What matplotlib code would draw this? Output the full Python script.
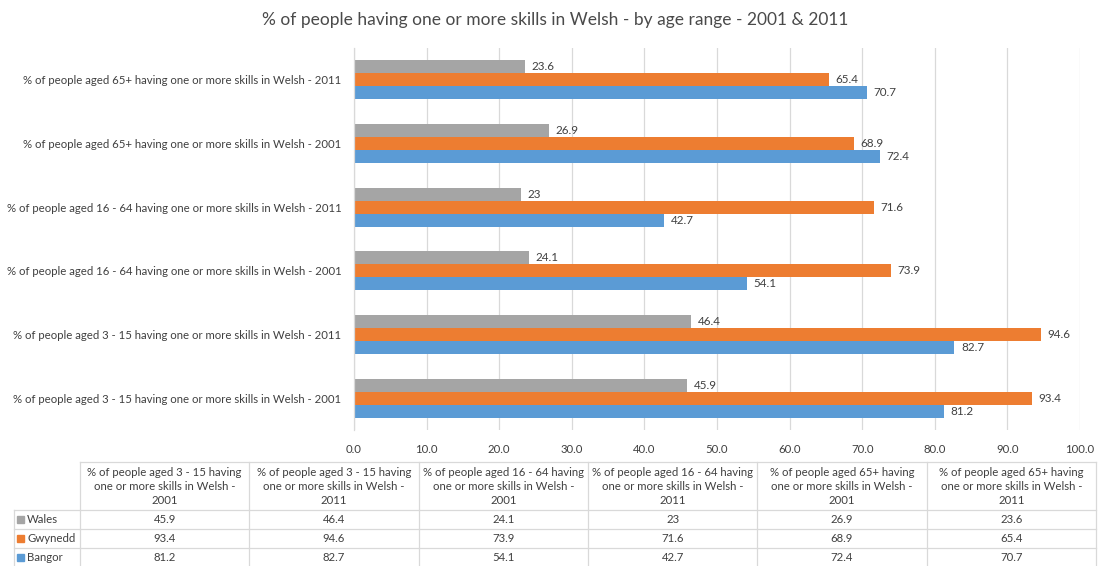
import matplotlib
matplotlib.use("Agg")
import matplotlib.pyplot as plt
import numpy as np
from matplotlib.lines import Line2D
from matplotlib.patches import Rectangle

plt.rcParams['font.family'] = ['Lato', 'DejaVu Sans']

categories = [
    "% of people aged 3 - 15 having one or more skills in Welsh - 2001",
    "% of people aged 3 - 15 having one or more skills in Welsh - 2011",
    "% of people aged 16 - 64 having one or more skills in Welsh - 2001",
    "% of people aged 16 - 64 having one or more skills in Welsh - 2011",
    "% of people aged 65+ having one or more skills in Welsh - 2001",
    "% of people aged 65+ having one or more skills in Welsh - 2011",
]
series_names = ["Wales", "Gwynedd", "Bangor"]
wales = [45.9, 46.4, 24.1, 23, 26.9, 23.6]
gwynedd = [93.4, 94.6, 73.9, 71.6, 68.9, 65.4]
bangor = [81.2, 82.7, 54.1, 42.7, 72.4, 70.7]
value_labels = {
    "Wales": ["45.9", "46.4", "24.1", "23", "26.9", "23.6"],
    "Gwynedd": ["93.4", "94.6", "73.9", "71.6", "68.9", "65.4"],
    "Bangor": ["81.2", "82.7", "54.1", "42.7", "72.4", "70.7"],
}
xticks = [0, 10, 20, 30, 40, 50, 60, 70, 80, 90, 100]
title = "% of people having one or more skills in Welsh - by age range - 2001 & 2011"

colors = {"Wales": "#A5A5A5", "Gwynedd": "#ED7D31", "Bangor": "#5B9BD5"}
series = {"Wales": wales, "Gwynedd": gwynedd, "Bangor": bangor}
txt_col = "#404040"
grid_col = "#D9D9D9"

W, H = 1100, 566
fig = plt.figure(figsize=(W / 100, H / 100), dpi=100)
ax = fig.add_axes([354 / W, 1 - 430 / H, (1080 - 354) / W, (430 - 48) / H])

y = np.arange(len(categories))
bh = 0.205
offsets = {"Wales": bh, "Gwynedd": 0.0, "Bangor": -bh}
for name in series_names:
    vals = series[name]
    ax.barh(y + offsets[name], vals, height=bh, color=colors[name], zorder=3)
    for yi, v, lab in zip(y, vals, value_labels[name]):
        ax.text(v + 0.9, yi + offsets[name], lab, va='center', ha='left',
                fontsize=8.4, color=txt_col, zorder=4)

ax.set_xlim(0, 100)
ax.set_ylim(-0.5, len(categories) - 0.5)
ax.set_xticks(xticks)
ax.set_xticklabels([f"{t:.1f}" for t in xticks], fontsize=8.2, color=txt_col)
ax.set_yticks(y)
ax.set_yticklabels(categories, fontsize=8.2, color=txt_col)
ax.tick_params(axis='both', length=0)
ax.tick_params(axis='x', pad=10)
ax.tick_params(axis='y', pad=9)
ax.grid(axis='x', color=grid_col, linewidth=0.9, zorder=0)
for s in ['top', 'right', 'bottom']:
    ax.spines[s].set_visible(False)
ax.spines['left'].set_color(grid_col)
ax.spines['left'].set_linewidth(0.9)
ax.spines['left'].set_zorder(5)

fig.text(555 / W, 1 - 20 / H, title, ha='center', va='center', fontsize=12.5, color="#4a4a4a")

# ---- data table ----
ov = fig.add_axes([0, 0, 1, 1], zorder=10)
ov.set_xlim(0, W)
ov.set_ylim(H, 0)
ov.axis('off')
ov.patch.set_alpha(0)

col_edges = np.linspace(80, 1096, len(categories) + 1)
row_top = 462
hdr_bot = 510
row_h = 19
n_rows = len(series_names)
tbl_bot = hdr_bot + n_rows * row_h
lc = "#D9D9D9"
lw = 0.9

for i, xe in enumerate(col_edges):
    ov.add_line(Line2D([xe, xe], [row_top, tbl_bot], color=lc, lw=lw))
ov.add_line(Line2D([14, 14], [hdr_bot, tbl_bot], color=lc, lw=lw))
ov.add_line(Line2D([80, 1096], [row_top, row_top], color=lc, lw=lw))
for r in range(n_rows + 1):
    yy = hdr_bot + r * row_h
    ov.add_line(Line2D([14, 1096], [yy, yy], color=lc, lw=lw))

for i, cat in enumerate(categories):
    hdr = cat.replace(' one or', '\none or').replace('- 20', '-\n20')
    cx = (col_edges[i] + col_edges[i + 1]) / 2
    ov.text(cx, (row_top + hdr_bot) / 2 + 0.5, hdr, ha='center', va='center',
            fontsize=8.2, color=txt_col, linespacing=1.38)

for r, name in enumerate(series_names):
    cy = hdr_bot + r * row_h + row_h / 2
    ov.add_patch(Rectangle((17, cy - 3.5), 7, 7, color=colors[name]))
    ov.text(27, cy, name, ha='left', va='center', fontsize=8.2, color=txt_col)
    for i, lab in enumerate(value_labels[name]):
        cx = (col_edges[i] + col_edges[i + 1]) / 2
        ov.text(cx, cy, lab, ha='center', va='center', fontsize=8.2, color=txt_col)

fig.savefig("out.png", dpi=100, facecolor='white')
